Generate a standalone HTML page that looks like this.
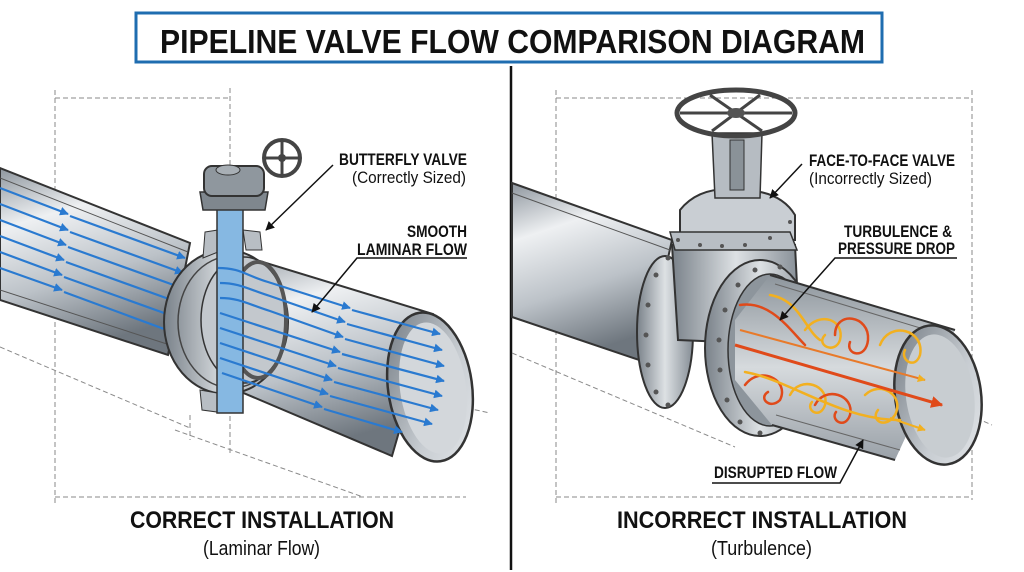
<!DOCTYPE html>
<html><head><meta charset="utf-8"><style>
html,body{margin:0;padding:0;background:#fff;}
svg{display:block;font-family:"Liberation Sans",sans-serif;}
</style></head><body>
<svg width="1024" height="572" viewBox="0 0 1024 572" xmlns="http://www.w3.org/2000/svg">
<defs>
<linearGradient id="pg" x1="0" y1="0" x2="0.3" y2="1">
<stop offset="0" stop-color="#8e969e"/><stop offset="0.3" stop-color="#eef0f2"/><stop offset="0.65" stop-color="#bcc2c8"/><stop offset="1" stop-color="#6e767e"/></linearGradient>
<linearGradient id="ig" x1="0" y1="0" x2="1" y2="1">
<stop offset="0" stop-color="#6f777f"/><stop offset="0.6" stop-color="#c8cdd2"/><stop offset="1" stop-color="#e4e7ea"/></linearGradient>
<linearGradient id="ri" x1="0" y1="0" x2="0" y2="1">
<stop offset="0" stop-color="#8d959c"/><stop offset="0.5" stop-color="#d6dadd"/><stop offset="1" stop-color="#9aa1a8"/></linearGradient>
<linearGradient id="fg" x1="0" y1="0" x2="1" y2="0">
<stop offset="0" stop-color="#7a828a"/><stop offset="0.5" stop-color="#dde1e4"/><stop offset="1" stop-color="#858d95"/></linearGradient>
<marker id="ab" viewBox="0 0 10 10" refX="9" refY="5" markerWidth="4" markerHeight="4" orient="auto"><path d="M0,0L10,5L0,10z" fill="#2a7ad0"/></marker>
<marker id="ak" viewBox="0 0 10 10" refX="9" refY="5" markerWidth="6" markerHeight="6" orient="auto"><path d="M0,0L10,5L0,10z" fill="#111"/></marker>
<marker id="ao" viewBox="0 0 10 10" refX="9" refY="5" markerWidth="4" markerHeight="4" orient="auto"><path d="M0,0L10,5L0,10z" fill="#e04a1a"/></marker>
<marker id="ay" viewBox="0 0 10 10" refX="9" refY="5" markerWidth="4" markerHeight="4" orient="auto"><path d="M0,0L10,5L0,10z" fill="#f2b020"/></marker>
</defs>
<rect width="1024" height="572" fill="#fff"/>
<rect x="136" y="13" width="746" height="49" fill="#fff" stroke="#1f6db0" stroke-width="3"/>
<text x="160" y="53" font-size="33" font-weight="bold" fill="#111" textLength="705" lengthAdjust="spacingAndGlyphs">PIPELINE VALVE FLOW COMPARISON DIAGRAM</text>
<line x1="511" y1="66" x2="511" y2="570" stroke="#111" stroke-width="2.5"/>
<g stroke="#8a8a8a" stroke-dasharray="5,3" fill="none" stroke-width="1">
<line x1="55" y1="98" x2="230" y2="98"/><line x1="55" y1="90" x2="55" y2="505"/><line x1="230" y1="88" x2="230" y2="455"/>
<line x1="55" y1="497" x2="466" y2="497"/>
<line x1="0" y1="347" x2="190" y2="428"/><line x1="175" y1="430" x2="363" y2="497"/>
<line x1="190" y1="415" x2="190" y2="440"/><line x1="420" y1="398" x2="490" y2="413"/>
<line x1="556" y1="98" x2="972" y2="98"/><line x1="556" y1="90" x2="556" y2="505"/><line x1="972" y1="90" x2="972" y2="500"/>
<line x1="556" y1="497" x2="972" y2="497"/>
<line x1="512" y1="353" x2="735" y2="447"/><line x1="940" y1="402" x2="992" y2="425"/>
</g>
<!-- LEFT upstream pipe -->
<polygon points="0,168 190,243 168,355 0,300" fill="url(#pg)" stroke="#333" stroke-width="2"/>
<line x1="0" y1="178" x2="188" y2="252" stroke="#555" stroke-width="1"/>
<line x1="0" y1="290" x2="170" y2="345" stroke="#555" stroke-width="1"/>
<g stroke="#2a7ad0" stroke-width="2.2" marker-end="url(#ab)" fill="none">
<line x1="0" y1="188" x2="68" y2="214"/><line x1="0" y1="204" x2="68" y2="230"/>
<line x1="0" y1="220" x2="66" y2="245"/><line x1="0" y1="236" x2="64" y2="260"/>
<line x1="0" y1="252" x2="62" y2="275"/><line x1="0" y1="268" x2="62" y2="290"/>
<line x1="70" y1="216" x2="185" y2="258"/><line x1="70" y1="232" x2="183" y2="273"/>
<line x1="68" y1="247" x2="182" y2="288"/><line x1="66" y1="262" x2="180" y2="303"/>
<line x1="64" y1="277" x2="178" y2="318"/><line x1="64" y1="292" x2="175" y2="333"/>
</g>
<polygon points="240,255 433,314 392,456 220,383" fill="url(#pg)" stroke="#333" stroke-width="2"/>
<ellipse cx="430" cy="387" rx="42" ry="75" fill="url(#ig)" stroke="#333" stroke-width="2.5" transform="rotate(-8 430 387)"/>
<ellipse cx="433" cy="388" rx="33" ry="66" fill="#d3d7db" transform="rotate(-8 433 388)"/>
<!-- flange -->
<ellipse cx="226" cy="322" rx="62" ry="72" fill="url(#fg)" stroke="#333" stroke-width="2"/>
<ellipse cx="232" cy="322" rx="54" ry="66" fill="none" stroke="#444" stroke-width="1.5"/>
<ellipse cx="244" cy="320" rx="43" ry="63" fill="#c3c8cd" stroke="#333" stroke-width="1.5"/>
<ellipse cx="258" cy="320" rx="28" ry="58" fill="none" stroke="#555" stroke-width="4"/>
<path d="M205,232 L218,230 L218,252 L203,258z" fill="#b8bec4" stroke="#333"/>
<path d="M243,230 L260,232 L262,250 L246,250z" fill="#b8bec4" stroke="#333"/>
<path d="M200,390 L217,393 L217,412 L202,410z" fill="#b8bec4" stroke="#333"/>
<rect x="217" y="205" width="26" height="208" fill="#86b8e2" stroke="#333" stroke-width="1.5"/>
<g stroke="#2a7ad0" stroke-width="2.2" marker-end="url(#ab)" fill="none">
<path d="M218,268 C240,268 245,275 268,282 L350,308"/>
<path d="M220,283 C240,283 250,290 270,296 L345,322"/>
<path d="M220,298 C240,298 250,305 270,311 L343,337"/>
<path d="M220,313 L340,352"/><path d="M220,328 L336,366"/>
<path d="M220,343 L332,380"/><path d="M220,358 L328,394"/><path d="M222,373 L322,407"/>
<line x1="352" y1="310" x2="440" y2="334"/><line x1="347" y1="324" x2="442" y2="350"/>
<line x1="345" y1="339" x2="444" y2="366"/><line x1="342" y1="354" x2="444" y2="381"/>
<line x1="338" y1="368" x2="442" y2="396"/><line x1="334" y1="382" x2="438" y2="410"/>
<line x1="330" y1="396" x2="432" y2="424"/><line x1="324" y1="409" x2="402" y2="432"/>
</g>
<path d="M200,192 L268,192 L265,210 L203,210z" fill="#7f878e" stroke="#333" stroke-width="1.5"/>
<rect x="204" y="166" width="60" height="30" rx="8" fill="#8f979e" stroke="#333" stroke-width="2"/>
<ellipse cx="228" cy="170" rx="12" ry="5" fill="#a8afb5" stroke="#333"/>
<circle cx="282" cy="158" r="18" fill="none" stroke="#444" stroke-width="4"/>
<g stroke="#444" stroke-width="3"><line x1="282" y1="140" x2="282" y2="176"/><line x1="264" y1="158" x2="300" y2="158"/></g>
<circle cx="282" cy="158" r="4" fill="#444"/>
<!-- RIGHT upstream pipe -->
<polygon points="512,183 672,240 645,362 512,317" fill="url(#pg)" stroke="#333" stroke-width="2"/>
<line x1="512" y1="193" x2="670" y2="250" stroke="#555"/>
<ellipse cx="665" cy="332" rx="28" ry="76" fill="url(#fg)" stroke="#333" stroke-width="2"/>
<g fill="#555"><circle cx="656" cy="275" r="2.5"/><circle cx="648" cy="305" r="2.5"/><circle cx="646" cy="335" r="2.5"/><circle cx="648" cy="365" r="2.5"/><circle cx="656" cy="392" r="2.5"/><circle cx="668" cy="258" r="2.5"/><circle cx="668" cy="405" r="2.5"/></g>
<path d="M672,245 L795,245 L800,345 L678,340z" fill="url(#fg)" stroke="#333" stroke-width="2"/>
<path d="M680,210 Q700,185 740,190 Q780,190 795,215 L795,240 L680,240z" fill="#c9ced3" stroke="#333" stroke-width="2"/>
<path d="M670,232 L790,232 L797,250 L675,250z" fill="#b8bec4" stroke="#333" stroke-width="1.5"/>
<g fill="#555"><circle cx="678" cy="240" r="2"/><circle cx="700" cy="245" r="2"/><circle cx="722" cy="246" r="2"/><circle cx="745" cy="245" r="2"/><circle cx="770" cy="238" r="2"/><circle cx="790" cy="222" r="2"/></g>
<path d="M712,133 L762,133 L760,198 L715,198z" fill="#b6bcc2" stroke="#333" stroke-width="1.5"/>
<rect x="730" y="140" width="14" height="50" fill="#8a9298" stroke="#333"/>
<ellipse cx="736" cy="113" rx="59" ry="23" fill="none" stroke="#444" stroke-width="5"/>
<g stroke="#444" stroke-width="3"><line x1="680" y1="113" x2="792" y2="113"/><line x1="710" y1="95" x2="762" y2="131"/><line x1="760" y1="95" x2="712" y2="131"/></g>
<ellipse cx="736" cy="113" rx="9" ry="5" fill="#555"/>
<!-- right flange -->
<ellipse cx="760" cy="348" rx="55" ry="88" fill="url(#fg)" stroke="#333" stroke-width="2"/>
<ellipse cx="770" cy="350" rx="42" ry="76" fill="#8d959c" stroke="#333" stroke-width="1.5"/>
<g fill="#555"><circle cx="755" cy="270" r="2.5"/><circle cx="780" cy="267" r="2.5"/><circle cx="738" cy="285" r="2.5"/><circle cx="725" cy="310" r="2.5"/><circle cx="719" cy="340" r="2.5"/><circle cx="720" cy="370" r="2.5"/><circle cx="727" cy="400" r="2.5"/><circle cx="740" cy="422" r="2.5"/><circle cx="760" cy="433" r="2.5"/></g>
<!-- downstream right -->
<polygon points="770,275 955,330 895,460 772,425 735,380 735,320" fill="url(#ri)" stroke="none"/>
<line x1="770" y1="275" x2="955" y2="330" stroke="#333" stroke-width="2"/>
<line x1="775" y1="284" x2="950" y2="337" stroke="#666" stroke-width="1"/>
<line x1="772" y1="425" x2="895" y2="460" stroke="#333" stroke-width="2"/>
<line x1="776" y1="415" x2="900" y2="450" stroke="#666" stroke-width="1"/>
<ellipse cx="938" cy="395" rx="43" ry="70" fill="url(#ig)" stroke="#333" stroke-width="2.5" transform="rotate(-8 938 395)"/>
<ellipse cx="940" cy="396" rx="34" ry="62" fill="#c8cdd1" transform="rotate(-8 940 396)"/>
<g fill="none" stroke-width="2.5" stroke-linecap="round">
<path d="M740,305 C770,300 790,330 805,345" stroke="#e04a1a"/>
<path d="M770,295 C800,300 805,330 820,340" stroke="#f2b020"/>
<path d="M805,330 C820,310 845,320 840,340 C835,355 815,345 825,335" stroke="#f2b020"/>
<path d="M835,335 C835,310 870,315 868,340 C866,360 845,355 850,342" stroke="#e04a1a"/>
<path d="M880,345 C890,320 925,330 920,355 C915,370 900,360 905,350" stroke="#f2b020"/>
<path d="M745,385 C760,365 790,380 780,400 C770,410 758,398 768,392" stroke="#e04a1a"/>
<path d="M790,395 C800,375 830,385 825,405 C820,420 805,410 812,402" stroke="#f2b020"/>
<path d="M815,405 C825,385 855,395 850,415 C845,430 830,420 836,412" stroke="#e04a1a"/>
<path d="M865,395 C880,380 905,395 895,415 C885,430 870,420 878,410" stroke="#f2b020"/>
<path d="M745,372 C790,380 840,420 900,420" stroke="#f2b020"/>
</g>
<line x1="735" y1="345" x2="942" y2="405" stroke="#e04a1a" stroke-width="3" marker-end="url(#ao)"/>
<line x1="740" y1="330" x2="925" y2="380" stroke="#e87a2a" stroke-width="2" marker-end="url(#ay)"/>
<line x1="890" y1="418" x2="925" y2="430" stroke="#f2b020" stroke-width="2" marker-end="url(#ay)"/>
<g stroke="#111" stroke-width="1.5" fill="none">
<line x1="333" y1="165" x2="266" y2="230" marker-end="url(#ak)"/>
<polyline points="467,258 357,258 312,312" marker-end="url(#ak)"/>
<line x1="802" y1="164" x2="770" y2="198" marker-end="url(#ak)"/>
<polyline points="957,258 835,258 780,320" marker-end="url(#ak)"/>
<polyline points="712,483 840,483 863,440" marker-end="url(#ak)"/>
</g>
<g fill="#111" font-size="17">
<text x="339" y="165" font-weight="bold" textLength="128" lengthAdjust="spacingAndGlyphs">BUTTERFLY VALVE</text>
<text x="352" y="183" textLength="114" lengthAdjust="spacingAndGlyphs">(Correctly Sized)</text>
<text x="407" y="237" font-weight="bold" textLength="60" lengthAdjust="spacingAndGlyphs">SMOOTH</text>
<text x="357" y="255" font-weight="bold" textLength="110" lengthAdjust="spacingAndGlyphs">LAMINAR FLOW</text>
<text x="809" y="166" font-weight="bold" textLength="146" lengthAdjust="spacingAndGlyphs">FACE-TO-FACE VALVE</text>
<text x="809" y="184" textLength="123" lengthAdjust="spacingAndGlyphs">(Incorrectly Sized)</text>
<text x="844" y="237" font-weight="bold" textLength="108" lengthAdjust="spacingAndGlyphs">TURBULENCE &amp;</text>
<text x="838" y="254" font-weight="bold" textLength="117" lengthAdjust="spacingAndGlyphs">PRESSURE DROP</text>
<text x="714" y="478" font-weight="bold" textLength="123" lengthAdjust="spacingAndGlyphs">DISRUPTED FLOW</text>
</g>
<text x="130" y="528" font-size="24" font-weight="bold" fill="#111" textLength="264" lengthAdjust="spacingAndGlyphs">CORRECT INSTALLATION</text>
<text x="203" y="555" font-size="20" fill="#111" textLength="117" lengthAdjust="spacingAndGlyphs">(Laminar Flow)</text>
<text x="617" y="528" font-size="24" font-weight="bold" fill="#111" textLength="290" lengthAdjust="spacingAndGlyphs">INCORRECT INSTALLATION</text>
<text x="711" y="555" font-size="20" fill="#111" textLength="101" lengthAdjust="spacingAndGlyphs">(Turbulence)</text>
</svg>
</body></html>
